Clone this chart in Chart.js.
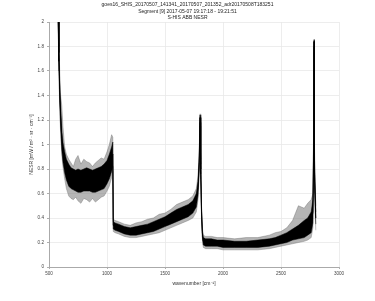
<!DOCTYPE html>
<html>
<head>
<meta charset="utf-8">
<script src="https://cdn.jsdelivr.net/npm/chart.js@4"></script>
<style>
  html, body { margin: 0; padding: 0; background: #fff; }
  #wrap { width: 375px; height: 301px; }
</style>
</head>
<body>
<div id="wrap"><canvas id="nesrChart" width="375" height="301"></canvas></div>
<script>
// wavenumber grid (cm-1)
const wavenumbers = [578, 585, 592, 600, 610, 620, 635, 650, 670, 690, 710, 730, 750, 775, 800, 825, 850, 875, 900, 925, 950, 975, 1000, 1020, 1040, 1050,
  1054, 1070, 1100, 1150, 1200, 1250, 1300, 1350, 1400, 1450, 1500, 1550, 1600, 1650, 1700, 1740, 1770, 1785, 1795, 1802, 1808, 1815, 1822,
  1830, 1850, 1900, 1950, 2000, 2100, 2200, 2300, 2400, 2450, 2500, 2550, 2600, 2650, 2700, 2730, 2760, 2775, 2782, 2785, 2788, 2800];

// typical NESR
const nesrMean = [2.10, 1.75, 1.45, 1.25, 1.05, 0.95, 0.86, 0.80, 0.76, 0.73, 0.72, 0.71, 0.70, 0.70, 0.71, 0.72, 0.71, 0.70, 0.70, 0.72, 0.73, 0.74, 0.78, 0.82, 0.88, 0.92,
  0.34, 0.33, 0.32, 0.30, 0.29, 0.29, 0.30, 0.31, 0.33, 0.35, 0.37, 0.40, 0.42, 0.44, 0.46, 0.49, 0.55, 0.65, 0.85, 1.22, 0.80, 0.45, 0.28,
  0.21, 0.20, 0.20, 0.19, 0.19, 0.18, 0.18, 0.19, 0.20, 0.21, 0.22, 0.24, 0.26, 0.28, 0.30, 0.32, 0.35, 0.45, 1.00, 1.84, 0.80, 0.40];

// dense (black) part of the noisy trace
const nesrLow = [2.05, 1.68, 1.36, 1.15, 0.96, 0.86, 0.77, 0.71, 0.66, 0.64, 0.63, 0.62, 0.61, 0.61, 0.62, 0.62, 0.62, 0.61, 0.61, 0.62, 0.63, 0.64, 0.68, 0.72, 0.78, 0.82,
  0.31, 0.30, 0.29, 0.27, 0.26, 0.26, 0.27, 0.28, 0.29, 0.31, 0.33, 0.35, 0.37, 0.39, 0.41, 0.44, 0.49, 0.59, 0.80, 1.18, 0.76, 0.42, 0.25,
  0.18, 0.17, 0.17, 0.17, 0.16, 0.16, 0.16, 0.16, 0.17, 0.18, 0.19, 0.20, 0.22, 0.23, 0.24, 0.26, 0.28, 0.36, 0.90, 1.80, 0.70, 0.35];
const nesrHigh = [2.15, 1.80, 1.50, 1.30, 1.12, 1.02, 0.94, 0.88, 0.84, 0.81, 0.80, 0.79, 0.80, 0.79, 0.80, 0.81, 0.80, 0.79, 0.80, 0.81, 0.82, 0.84, 0.87, 0.92, 0.98, 1.02,
  0.37, 0.36, 0.35, 0.33, 0.32, 0.33, 0.34, 0.35, 0.37, 0.39, 0.41, 0.44, 0.47, 0.49, 0.51, 0.54, 0.60, 0.70, 0.90, 1.24, 0.84, 0.48, 0.30,
  0.24, 0.23, 0.23, 0.22, 0.22, 0.21, 0.21, 0.22, 0.23, 0.24, 0.26, 0.28, 0.31, 0.34, 0.38, 0.40, 0.45, 0.55, 1.10, 1.85, 0.90, 0.45];

// sparse (grey) spikes around the trace
const spikeLow = [2.00, 1.60, 1.30, 1.10, 0.92, 0.82, 0.72, 0.64, 0.58, 0.56, 0.55, 0.57, 0.54, 0.52, 0.56, 0.55, 0.53, 0.56, 0.53, 0.55, 0.57, 0.58, 0.62, 0.66, 0.73, 0.78,
  0.29, 0.28, 0.27, 0.25, 0.24, 0.24, 0.25, 0.26, 0.27, 0.28, 0.30, 0.32, 0.34, 0.36, 0.38, 0.40, 0.45, 0.55, 0.76, 1.15, 0.72, 0.40, 0.23,
  0.16, 0.15, 0.15, 0.15, 0.14, 0.14, 0.14, 0.14, 0.15, 0.16, 0.17, 0.18, 0.19, 0.20, 0.21, 0.22, 0.24, 0.32, 0.80, 1.75, 0.60, 0.30];
const spikeHigh = [2.20, 1.85, 1.60, 1.40, 1.32, 1.15, 0.98, 0.92, 0.88, 0.85, 0.82, 0.88, 0.91, 0.84, 0.88, 0.86, 0.85, 0.82, 0.85, 0.87, 0.89, 0.88, 0.94, 1.00, 1.08, 1.06,
  0.39, 0.38, 0.37, 0.35, 0.34, 0.36, 0.37, 0.39, 0.40, 0.43, 0.44, 0.47, 0.51, 0.53, 0.55, 0.58, 0.64, 0.75, 0.95, 1.25, 0.88, 0.50, 0.32,
  0.26, 0.25, 0.25, 0.24, 0.24, 0.23, 0.24, 0.24, 0.26, 0.28, 0.29, 0.32, 0.38, 0.50, 0.48, 0.52, 0.55, 0.60, 1.20, 1.86, 1.00, 0.50];

const xTicks = [500, 1000, 1500, 2000, 2500, 3000];
const yTicks = [0, 0.2, 0.4, 0.6, 0.8, 1, 1.2, 1.4, 1.6, 1.8, 2];

const titleLines = [
  "goes16_SHIS_20170507_141341_20170507_201352_adr20170508T183251",
  "Segment [9] 2017-05-07 19:17:18 - 19:21:51",
  "S-HIS ABB NESR"
];

function toPoints(values) {
  return wavenumbers.map((w, i) => ({ x: w, y: values[i] }));
}

const lineStyle = { pointRadius: 0, borderWidth: 0.5, tension: 0 };
const font = "Liberation Sans, Arial, sans-serif";

new Chart(document.getElementById("nesrChart").getContext("2d"), {
  type: "line",
  data: {
    datasets: [
      { data: toPoints(spikeHigh), borderColor: "rgba(90,90,90,0.7)", backgroundColor: "rgba(120,120,120,0.55)", fill: "+1", order: 3, ...lineStyle },
      { data: toPoints(spikeLow), borderColor: "rgba(90,90,90,0.7)", fill: false, order: 3, ...lineStyle },
      { data: toPoints(nesrHigh), borderColor: "#000", backgroundColor: "#000", fill: "+1", order: 2, ...lineStyle },
      { data: toPoints(nesrLow), borderColor: "#000", fill: false, order: 2, ...lineStyle },
      { data: toPoints(nesrMean), borderColor: "#000", fill: false, order: 1, ...lineStyle, borderWidth: 1 }
    ]
  },
  options: {
    responsive: false,
    animation: false,
    layout: { padding: 0 },
    plugins: {
      legend: { display: false },
      tooltip: { enabled: false },
      title: {
        display: true,
        text: titleLines,
        color: "#222",
        font: { family: font, size: 5, weight: "normal", lineHeight: 1.3 },
        padding: { top: 1.5, bottom: 1 }
      }
    },
    scales: {
      x: {
        type: "linear",
        min: 500,
        max: 3000,
        afterFit: scale => { scale.height = 34; },
        afterBuildTicks: scale => { scale.ticks = xTicks.map(v => ({ value: v })); },
        ticks: { color: "#444", font: { family: font, size: 4.6 }, padding: 2, maxRotation: 0, callback: v => String(v) },
        grid: { color: "#e8e8e8", lineWidth: 0.8, tickLength: 2, tickColor: "#999" },
        border: { color: "#aaa", width: 1 },
        title: {
          display: true,
          text: "wavenumber [cm⁻¹]",
          color: "#333",
          font: { family: font, size: 5 },
          padding: { top: 4, bottom: 14 }
        }
      },
      y: {
        min: 0,
        max: 2,
        afterFit: scale => { scale.width = 49; },
        afterBuildTicks: scale => { scale.ticks = yTicks.map(v => ({ value: v })); },
        ticks: { color: "#444", font: { family: font, size: 4.6 }, padding: 3, callback: v => String(v) },
        grid: { color: "#e8e8e8", lineWidth: 0.8, tickLength: 2, tickColor: "#999" },
        border: { color: "#aaa", width: 1 },
        title: {
          display: true,
          text: "NESR [mW / m² · sr · cm⁻¹]",
          color: "#333",
          font: { family: font, size: 5 },
          padding: { top: 29, bottom: 0 }
        }
      },
      // empty right-hand margin so the titles centre on the whole figure
      yRight: {
        position: "right",
        min: 0,
        max: 2,
        afterFit: scale => { scale.width = 36; },
        ticks: { display: false },
        grid: { display: false },
        border: { display: false }
      }
    }
  }
});
</script>
</body>
</html>
